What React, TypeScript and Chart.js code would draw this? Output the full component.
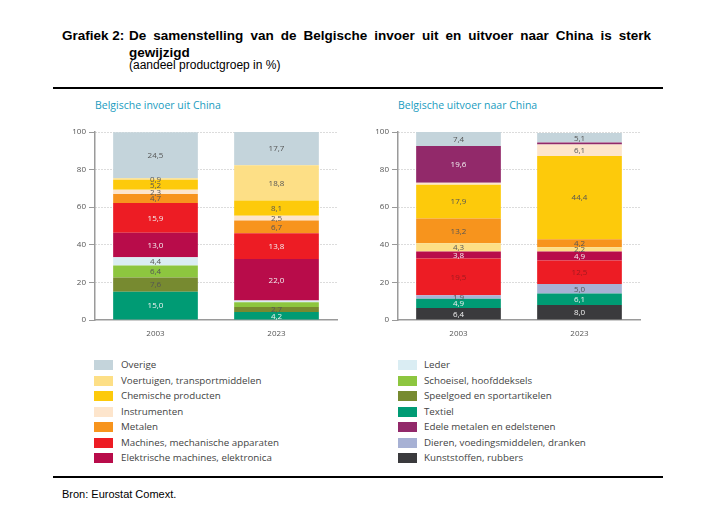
import React, { useEffect, useRef } from "react";
import { Chart, registerables } from "chart.js";

Chart.register(...registerables);

const years = ["2003", "2023"];
const yTickValues = [0, 20, 40, 60, 80, 100];

// Groups (legend names)
const G_OVERIGE = "Overige";
const G_VOERTUIGEN = "Voertuigen, transportmiddelen";
const G_CHEMISCHE = "Chemische producten";
const G_INSTRUMENTEN = "Instrumenten";
const G_METALEN = "Metalen";
const G_MACHINES = "Machines, mechanische apparaten";
const G_ELEKTRISCHE = "Elektrische machines, elektronica";
const G_LEDER = "Leder";
const G_SCHOEISEL = "Schoeisel, hoofddeksels";
const G_SPEELGOED = "Speelgoed en sportartikelen";
const G_TEXTIEL = "Textiel";
const G_EDELE = "Edele metalen en edelstenen";
const G_DIEREN = "Dieren, voedingsmiddelen, dranken";
const G_KUNSTSTOFFEN = "Kunststoffen, rubbers";

const legendLeft = [G_OVERIGE, G_VOERTUIGEN, G_CHEMISCHE, G_INSTRUMENTEN, G_METALEN, G_MACHINES, G_ELEKTRISCHE];
const legendRight = [G_LEDER, G_SCHOEISEL, G_SPEELGOED, G_TEXTIEL, G_EDELE, G_DIEREN, G_KUNSTSTOFFEN];

// Invoer uit China (2003, 2023), stacked bottom to top
const impTextiel = [15.0, 4.2];
const impSpeelgoed = [7.6, 2.7];
const impSchoeisel = [6.4, 2.5];
const impLeder = [4.4, 1.0];
const impElektrische = [13.0, 22.0];
const impMachines = [15.9, 13.8];
const impMetalen = [4.7, 6.7];
const impInstrumenten = [2.3, 2.5];
const impChemische = [5.2, 8.1];
const impVoertuigen = [0.9, 18.8];
const impOverige = [24.5, 17.7];
const impLabelShown = {
  [G_SCHOEISEL]: [true, false],
  [G_LEDER]: [true, false],
};

// Uitvoer naar China (2003, 2023), stacked bottom to top
const expKunststoffen = [6.4, 8.0];
const expTextiel = [4.9, 6.1];
const expDieren = [1.9, 5.0];
const expMachines = [19.5, 12.5];
const expElektrische = [3.8, 4.9];
const expVoertuigen = [4.3, 2.2];
const expMetalen = [13.2, 4.2];
const expChemische = [17.9, 44.4];
const expInstrumenten = [1.1, 6.1];
const expEdele = [19.6, 1.0];
const expOverige = [7.4, 5.1];
const expLabelShown = {
  [G_INSTRUMENTEN]: [false, true],
  [G_EDELE]: [true, false],
};

const fills: Record<string, string> = {
  [G_OVERIGE]: "#c4d4db",
  [G_VOERTUIGEN]: "#fddf86",
  [G_CHEMISCHE]: "#fdca0b",
  [G_INSTRUMENTEN]: "#fde5cc",
  [G_METALEN]: "#f7941d",
  [G_MACHINES]: "#ed1c24",
  [G_ELEKTRISCHE]: "#b80c4a",
  [G_LEDER]: "#daedf3",
  [G_SCHOEISEL]: "#8dc63f",
  [G_SPEELGOED]: "#778a30",
  [G_TEXTIEL]: "#009b74",
  [G_EDELE]: "#92296a",
  [G_DIEREN]: "#a7b1d4",
  [G_KUNSTSTOFFEN]: "#3a3a3d",
};

const DARK_TEXT = "#555555";
const LIGHT_TEXT = "#f2f2f2";
const labelColors: Record<string, string> = {
  [G_OVERIGE]: DARK_TEXT,
  [G_VOERTUIGEN]: DARK_TEXT,
  [G_CHEMISCHE]: DARK_TEXT,
  [G_INSTRUMENTEN]: DARK_TEXT,
  [G_METALEN]: DARK_TEXT,
  [G_MACHINES]: LIGHT_TEXT,
  [G_ELEKTRISCHE]: LIGHT_TEXT,
  [G_LEDER]: DARK_TEXT,
  [G_SCHOEISEL]: DARK_TEXT,
  [G_SPEELGOED]: DARK_TEXT,
  [G_TEXTIEL]: LIGHT_TEXT,
  [G_EDELE]: LIGHT_TEXT,
  [G_DIEREN]: DARK_TEXT,
  [G_KUNSTSTOFFEN]: LIGHT_TEXT,
};
const expMachinesLabelColor = "#9e1a1f";

const FONT = '"Open Sans", "Noto Sans", sans-serif';

function makeDatasets(
  series: [string, number[]][],
  shown: Record<string, boolean[]>,
  colorOverride: Record<string, string>
) {
  return series.map(([name, values]) => ({
    label: name,
    data: values,
    backgroundColor: fills[name],
    borderWidth: 0,
    barPercentage: 0.7,
    categoryPercentage: 1.0,
    labelShown: shown[name] || [true, true],
    labelColor: colorOverride[name] || labelColors[name],
  }));
}

const segLabelPlugin = {
  id: "segLabels",
  afterDatasetsDraw(chart: any) {
    const ctx = chart.ctx;
    ctx.save();
    ctx.font = `8px ${FONT}`;
    ctx.textAlign = "center";
    ctx.textBaseline = "middle";
    chart.data.datasets.forEach((ds: any, i: number) => {
      const meta = chart.getDatasetMeta(i);
      meta.data.forEach((el: any, j: number) => {
        const v = ds.data[j];
        if (v == null || !ds.labelShown[j]) return;
        const p = el.getProps(["x", "y", "base"], true);
        ctx.fillStyle = ds.labelColor;
        ctx.fillText(v.toFixed(1).replace(".", ","), p.x, (p.y + p.base) / 2 + 0.5);
      });
    });
    ctx.restore();
  },
};

function StackChart({ datasets }: { datasets: any[] }) {
  const ref = useRef<HTMLCanvasElement | null>(null);
  useEffect(() => {
    if (!ref.current) return;
    const chart = new Chart(ref.current, {
      type: "bar",
      data: { labels: years, datasets },
      options: {
        animation: false,
        responsive: false,
        maintainAspectRatio: false,
        layout: { padding: { left: 0, right: 8, top: 11, bottom: 0 } },
        plugins: { legend: { display: false }, tooltip: { enabled: false } },
        scales: {
          x: {
            stacked: true,
            grid: { display: false },
            border: { display: true, color: "#9a9a9a", width: 1.5 },
            ticks: { color: "#555", font: { family: FONT, size: 8 }, padding: 1 },
            afterFit(scale: any) {
              scale.height = 25;
            },
          },
          y: {
            stacked: true,
            min: 0,
            max: 100,
            afterBuildTicks(scale: any) {
              scale.ticks = yTickValues.map((v) => ({ value: v }));
            },
            grid: {
              color: (c: any) => (c.tick && c.tick.value === 0 ? "rgba(0,0,0,0)" : "#b8b8b8"),
              lineWidth: 1,
              tickLength: 6,
              tickColor: "#9a9a9a",
              tickBorderDash: [],
              drawTicks: true,
            },
            border: { display: true, color: "#9a9a9a", width: 1.5, dash: [1, 2] },
            ticks: { color: "#555", font: { family: FONT, size: 8 }, padding: 3 },
            afterFit(scale: any) {
              scale.width = 40;
            },
          },
        },
      },
      plugins: [segLabelPlugin],
    } as any);
    return () => chart.destroy();
  }, [datasets]);
  return <canvas ref={ref} width={290} height={224} style={{ width: 290, height: 224, display: "block" }} />;
}

const importDatasets = makeDatasets(
  [
    [G_TEXTIEL, impTextiel],
    [G_SPEELGOED, impSpeelgoed],
    [G_SCHOEISEL, impSchoeisel],
    [G_LEDER, impLeder],
    [G_ELEKTRISCHE, impElektrische],
    [G_MACHINES, impMachines],
    [G_METALEN, impMetalen],
    [G_INSTRUMENTEN, impInstrumenten],
    [G_CHEMISCHE, impChemische],
    [G_VOERTUIGEN, impVoertuigen],
    [G_OVERIGE, impOverige],
  ],
  impLabelShown,
  {}
);

const exportDatasets = makeDatasets(
  [
    [G_KUNSTSTOFFEN, expKunststoffen],
    [G_TEXTIEL, expTextiel],
    [G_DIEREN, expDieren],
    [G_MACHINES, expMachines],
    [G_ELEKTRISCHE, expElektrische],
    [G_VOERTUIGEN, expVoertuigen],
    [G_METALEN, expMetalen],
    [G_CHEMISCHE, expChemische],
    [G_INSTRUMENTEN, expInstrumenten],
    [G_EDELE, expEdele],
    [G_OVERIGE, expOverige],
  ],
  expLabelShown,
  { [G_MACHINES]: expMachinesLabelColor }
);

function Legend({ items, left, swatchLeft }: { items: string[]; left: number; swatchLeft: number }) {
  return (
    <div style={{ position: "absolute", left: 0, top: 0 }}>
      {items.map((name, i) => {
        const cy = 365 + i * 15.5;
        return (
          <React.Fragment key={name}>
            <div
              style={{
                position: "absolute",
                left: swatchLeft,
                top: cy - 5,
                width: 19,
                height: 10,
                background: fills[name],
              }}
            />
            <div
              style={{
                position: "absolute",
                left,
                top: cy - 8,
                height: 16,
                lineHeight: "16px",
                fontFamily: FONT,
                fontSize: 9.75,
                color: "#444",
                whiteSpace: "nowrap",
              }}
            >
              {name}
            </div>
          </React.Fragment>
        );
      })}
    </div>
  );
}

export default function App() {
  const arial = '"Liberation Sans", Arial, sans-serif';
  return (
    <div style={{ position: "absolute", left: 0, top: 0, width: 716, height: 518, background: "#fff" }}>
      <div style={{ position: "absolute", left: 62, top: 27, fontFamily: arial, fontWeight: "bold", fontSize: 13.5, lineHeight: "17px", color: "#000" }}>
        Grafiek 2:
      </div>
      <div
        style={{
          position: "absolute",
          left: 129,
          top: 27,
          width: 522,
          fontFamily: arial,
          fontWeight: "bold",
          fontSize: 13.5,
          lineHeight: "17px",
          textAlign: "justify",
          color: "#000",
        }}
      >
        De samenstelling van de Belgische invoer uit en uitvoer naar China is sterk gewijzigd
      </div>
      <div style={{ position: "absolute", left: 129, top: 58, fontFamily: arial, fontSize: 12, lineHeight: "14px", color: "#000" }}>
        (aandeel productgroep in %)
      </div>
      <div style={{ position: "absolute", left: 53, top: 87, width: 610, height: 1.5, background: "#000" }} />

      <div style={{ position: "absolute", left: 95, top: 98, fontFamily: FONT, fontSize: 10.5, color: "#1a9cc0", whiteSpace: "nowrap" }}>
        Belgische invoer uit China
      </div>
      <div style={{ position: "absolute", left: 398, top: 98, fontFamily: FONT, fontSize: 10.5, color: "#1a9cc0", whiteSpace: "nowrap" }}>
        Belgische uitvoer naar China
      </div>

      <div style={{ position: "absolute", left: 55, top: 121 }}>
        <StackChart datasets={importDatasets} />
      </div>
      <div style={{ position: "absolute", left: 358, top: 121 }}>
        <StackChart datasets={exportDatasets} />
      </div>

      <Legend items={legendLeft} swatchLeft={94} left={121} />
      <Legend items={legendRight} swatchLeft={398} left={424} />

      <div style={{ position: "absolute", left: 53, top: 476, width: 610, height: 1.5, background: "#000" }} />
      <div style={{ position: "absolute", left: 62, top: 487, fontFamily: arial, fontSize: 11, lineHeight: "14px", color: "#000" }}>
        Bron: Eurostat Comext.
      </div>
    </div>
  );
}
